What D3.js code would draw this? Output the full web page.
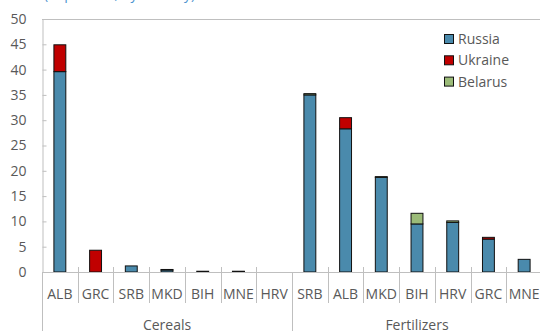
<!DOCTYPE html>
<html><head><meta charset="utf-8">
<script src="https://cdn.jsdelivr.net/npm/d3@7"></script>
<style>
html,body{margin:0;padding:0;background:#fff;}
svg{display:block;font-family:"Open Sans","Noto Sans",sans-serif;}
</style></head>
<body><svg id="c" width="540" height="331"></svg>
<script>
const groups = ["Cereals", "Fertilizers"];
const cerealCountries = ["ALB","GRC","SRB","MKD","BIH","MNE","HRV"];
const fertCountries = ["SRB","ALB","MKD","BIH","HRV","GRC","MNE"];
const seriesNames = ["Russia","Ukraine","Belarus"];
const seriesColors = ["#4a8aac","#c00000","#9bbb78"];
const cerealRussia  = [39.6, 0,   1.2, 0.4, 0.15, 0.1, 0];
const cerealUkraine = [5.3,  4.3, 0,   0.1, 0,    0.05, 0];
const cerealBelarus = [0,    0,   0,   0,   0,    0,   0];
const fertRussia  = [35.0, 28.3, 18.7, 9.5, 9.8, 6.5, 2.5];
const fertUkraine = [0,    2.2,  0,    0,   0,   0.35, 0];
const fertBelarus = [0.25, 0,    0.15, 2.1, 0.3, 0,   0];
const yTicks = [0,5,10,15,20,25,30,35,40,45,50];
const subtitle = "(In percent, by country)";

(function(){
const rows = [];
cerealCountries.forEach((c,i)=>rows.push({key:"C"+i, label:c, group:0, Russia:cerealRussia[i], Ukraine:cerealUkraine[i], Belarus:cerealBelarus[i]}));
fertCountries.forEach((c,i)=>rows.push({key:"F"+i, label:c, group:1, Russia:fertRussia[i], Ukraine:fertUkraine[i], Belarus:fertBelarus[i]}));

const svg = d3.select("#c");
const pLeft = 42, pRight = 542, pTop = 19, pBottom = 272;
const x = d3.scaleBand().domain(rows.map(d=>d.key)).range([pLeft,pRight]).paddingInner(2/3).paddingOuter(1/3);
const y = d3.scaleLinear().domain([0,50]).range([pBottom,pTop]);
const color = d3.scaleOrdinal().domain(seriesNames).range(seriesColors);
const grey = "#bfbfbf", txt = "#595959", fs = 14;

svg.append("text").attr("x",44).attr("y",-1).attr("fill","#4f95d0").attr("font-size",fs).text(subtitle);

svg.append("line").attr("x1",pLeft).attr("x2",pRight).attr("y1",pTop+0.5).attr("y2",pTop+0.5).attr("stroke",grey);

const ya = svg.append("g").attr("transform",`translate(${pLeft+0.5},0)`)
  .call(d3.axisLeft(y).tickValues(yTicks).tickSizeInner(-4).tickSizeOuter(0).tickPadding(16));
ya.select(".domain").attr("stroke",grey);
ya.selectAll(".tick line").attr("stroke",grey);
ya.selectAll(".tick text").attr("fill",txt).attr("font-size",fs).attr("font-family","Open Sans, sans-serif");

const stack = d3.stack().keys(seriesNames)(rows);
svg.append("g").selectAll("g").data(stack).join("g").attr("fill",d=>color(d.key))
  .selectAll("rect").data(d=>d.filter(p=>p[1]-p[0]>0)).join("rect")
  .attr("x",d=>x(d.data.key)).attr("width",x.bandwidth())
  .attr("y",d=>y(d[1])).attr("height",d=>Math.max(0.5,y(d[0])-y(d[1])))
  .attr("stroke","#111").attr("stroke-width",1);

svg.append("line").attr("x1",pLeft).attr("x2",pRight).attr("y1",pBottom+0.5).attr("y2",pBottom+0.5).attr("stroke",grey);

const step = x.step();
d3.range(0, rows.length+1).forEach(i=>{
  const xx = Math.round(pLeft + i*step)+0.5;
  const long = (i===0 || i===7);
  svg.append("line").attr("x1",xx).attr("x2",xx).attr("y1",long?pBottom:267).attr("y2",long?331:303).attr("stroke",grey);
});

svg.append("g").selectAll("text").data(rows).join("text")
  .attr("x",d=>x(d.key)+x.bandwidth()/2).attr("y",299).attr("text-anchor","middle")
  .attr("fill",txt).attr("font-size",fs).text(d=>d.label);

svg.append("g").selectAll("text").data(groups).join("text")
  .attr("x",(d,i)=>pLeft + (i*7+3.5)*step).attr("y",330).attr("text-anchor","middle")
  .attr("fill",txt).attr("font-size",fs).text(d=>d);

const lg = svg.append("g").selectAll("g").data(seriesNames).join("g")
  .attr("transform",(d,i)=>`translate(444,${34+i*21.3})`);
lg.append("rect").attr("x",0.5).attr("y",0.5).attr("width",9).attr("height",9).attr("fill",d=>color(d)).attr("stroke","#111");
lg.append("text").attr("x",14).attr("y",10).attr("fill",txt).attr("font-size",fs).text(d=>d);
})();
</script></body></html>
